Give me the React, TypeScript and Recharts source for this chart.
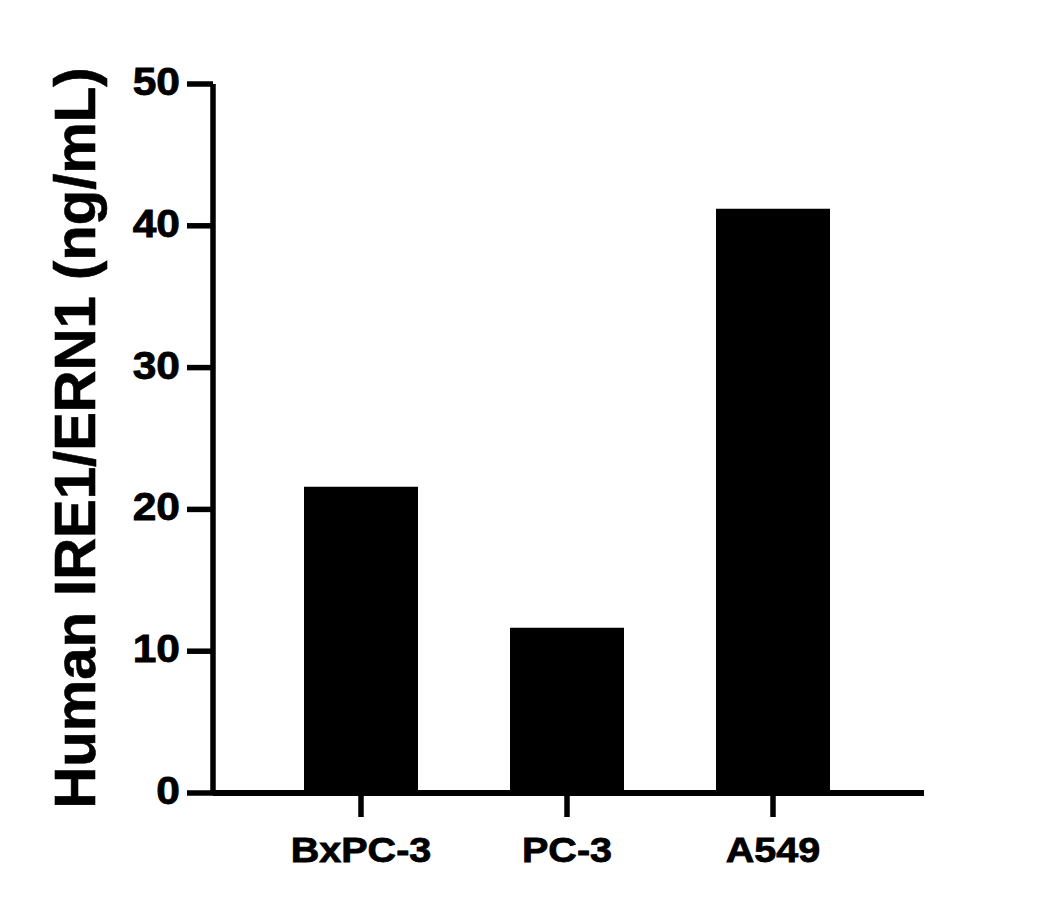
import React from "react";
import { BarChart, Bar, XAxis, YAxis } from "recharts";

const categories = ["BxPC-3", "PC-3", "A549"];
const values = [21.6, 11.65, 41.2];
const yTicks = [0, 10, 20, 30, 40, 50];
const yTitle = "Human IRE1/ERN1 (ng/mL)";

const data = categories.map((name, i) => ({ name, value: values[i] }));

const FONT = '"Liberation Sans", Arial, Helvetica, sans-serif';

const XTick = (props: any) => {
  const { x, payload } = props;
  return (
    <g transform={`translate(${x},862) scale(1.13,1)`}>
      <text x={0} y={0} textAnchor="middle" fontFamily={FONT} fontWeight="bold" fontSize={35} fill="#000" stroke="#000" strokeWidth={0.8}>
        {payload.value}
      </text>
    </g>
  );
};

const YTick = (props: any) => {
  const { y, payload } = props;
  return (
    <g transform={`translate(180,${y + 11}) scale(1.12,1)`}>
      <text x={0} y={0} textAnchor="end" fontFamily={FONT} fontWeight="bold" fontSize={38} fill="#000" stroke="#000" strokeWidth={0.8}>
        {payload.value}
      </text>
    </g>
  );
};

const YLabel = () => (
  <text
    x={95}
    y={438}
    transform="rotate(-90,95,438)"
    textAnchor="middle"
    fontFamily={FONT}
    fontWeight="bold"
    fontSize={58}
    fill="#000"
    stroke="#000"
    strokeWidth={0.6}
  >
    {yTitle}
  </text>
);

export default function App() {
  return (
    <div style={{ position: "absolute", left: 0, top: 0, background: "#fff" }}>
      <BarChart
        width={1055}
        height={910}
        data={data}
        margin={{ top: 84, right: 131, bottom: 0, left: 0 }}
        barCategoryGap={0}
      >
        <XAxis
          dataKey="name"
          height={117}
          padding={{ left: 45, right: 48 }}
          axisLine={{ stroke: "#000", strokeWidth: 6 }}
          tickLine={{ stroke: "#000", strokeWidth: 5.5 }}
          tickSize={24}
          tick={<XTick />}
          interval={0}
        />
        <YAxis
          width={213}
          domain={[0, 50]}
          ticks={yTicks}
          type="number"
          allowDataOverflow
          axisLine={{ stroke: "#000", strokeWidth: 5.5 }}
          tickLine={{ stroke: "#000", strokeWidth: 5.5 }}
          tickSize={26}
          tick={<YTick />}
          label={{ content: <YLabel /> }}
        />
        <Bar dataKey="value" fill="#000" barSize={114} isAnimationActive={false} />
      </BarChart>
    </div>
  );
}
